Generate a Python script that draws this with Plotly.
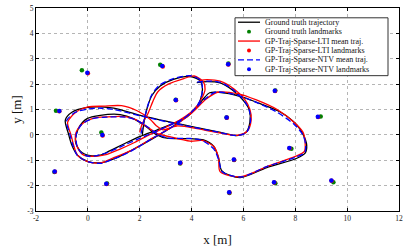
import plotly.graph_objects as go

# ---------------- data ----------------
gt_x = [2.10, 2.17, 2.28, 2.47, 2.79, 3.30, 3.95, 4.33, 4.42, 4.33, 4.14, 3.82, 3.30, 2.66, 2.02, 1.50, 0.86, 0.48, 0.09, -0.29,
        -0.48, -0.36, -0.03, 0.48, 1.25, 1.76, 2.28, 2.66, 3.05, 3.95, 4.46, 4.85, 5.04, 5.17, 5.87, 6.90, 8.06, 8.38, 8.44, 8.31,
        8.06, 7.42, 6.60, 6.00, 5.30, 4.70, 4.40, 3.90, 3.30, 2.50, 1.70, 1.00, 0.50, 0.00, -0.40, -0.62, -0.75, -0.87, -0.60, 0.00,
        0.50, 1.00, 2.02, 3.43, 4.97, 5.74, 6.10, 6.25, 6.22, 6.00, 5.60, 5.10, 4.60, 4.20]
gt_y = [0.00, 0.52, 1.03, 1.55, 1.93, 2.19, 2.30, 2.13, 1.80, 1.35, 1.03, 0.71, 0.45, 0.19, -0.06, -0.30, -0.62, -0.80, -0.82, -0.64,
        -0.26, 0.26, 0.64, 0.77, 0.80, 0.64, 0.30, 0.00, -0.13, -0.15, -0.20, -0.45, -0.90, -1.42, -1.68, -1.29, -0.92, -0.72, -0.40, 0.00,
        0.39, 0.90, 1.25, 1.48, 1.65, 1.66, 1.35, 0.80, 0.35, -0.15, -0.60, -0.95, -1.10, -1.05, -0.80, -0.40, 0.05, 0.58, 0.90, 1.08,
        1.10, 1.05, 0.77, 0.45, 0.13, -0.03, 0.10, 0.50, 1.00, 1.35, 1.75, 2.05, 2.10, 2.06]

lti_x = [2.00, 2.10, 2.30, 2.50, 2.70, 3.10, 3.70, 4.10, 4.45, 4.52, 4.40, 4.10, 3.60, 3.00, 2.40, 1.80, 1.20, 0.70, 0.20, -0.16,
         -0.39, -0.48, -0.25, 0.20, 0.74, 1.50, 1.89, 2.28, 2.66, 3.10, 3.95, 4.40, 4.85, 5.04, 5.10, 5.90, 6.90, 8.00, 8.35, 8.38,
         8.30, 7.95, 7.30, 6.50, 5.80, 5.00, 4.55, 4.05, 3.40, 2.50, 1.70, 1.00, 0.50, 0.00, -0.40, -0.55, -0.65, -0.78, -0.45, 0.00,
         0.60, 1.30, 1.90, 2.40, 2.65, 2.90, 3.43, 4.97, 5.74, 6.15, 6.30, 6.25, 6.05, 5.65, 5.10, 4.60, 4.30]
lti_y = [0.10, 0.45, 0.80, 1.30, 1.70, 2.00, 2.22, 2.32, 2.10, 1.80, 1.45, 1.00, 0.62, 0.30, 0.02, -0.30, -0.58, -0.78, -0.85, -0.80,
         -0.52, 0.00, 0.40, 0.65, 0.71, 0.71, 0.58, 0.32, 0.06, -0.06, -0.25, -0.22, -0.45, -0.90, -1.45, -1.65, -1.25, -0.85, -0.65, -0.30,
         0.10, 0.50, 1.00, 1.38, 1.62, 1.68, 1.40, 0.90, 0.40, -0.12, -0.60, -0.90, -1.10, -1.05, -0.80, -0.40, 0.00, 0.50, 0.90, 1.10,
         1.13, 1.15, 0.95, 0.62, 0.35, 0.20, 0.35, 0.10, -0.02, 0.15, 0.60, 1.00, 1.40, 1.80, 2.12, 2.18, 2.15]

ntv_x = [2.05, 2.15, 2.28, 2.45, 2.75, 3.30, 3.95, 4.35, 4.42, 4.33, 4.10, 3.70, 3.10, 2.50, 1.90, 1.30, 0.80, 0.40, 0.05, -0.20,
         -0.40, -0.45, -0.25, 0.15, 0.74, 1.45, 1.88, 2.28, 2.66, 3.05, 3.95, 4.40, 4.85, 5.05, 5.18, 5.88, 6.90, 8.02, 8.36, 8.40,
         8.28, 7.95, 7.25, 6.45, 5.70, 4.92, 4.48, 3.95, 3.35, 2.50, 1.70, 1.00, 0.50, 0.00, -0.40, -0.58, -0.70, -0.82, -0.50, 0.00,
         0.50, 1.00, 2.02, 3.43, 4.97, 5.74, 6.12, 6.27, 6.22, 6.02, 5.62, 5.10, 4.60, 4.20]
ntv_y = [0.05, 0.50, 1.05, 1.55, 1.95, 2.22, 2.33, 2.15, 1.80, 1.35, 1.00, 0.65, 0.35, 0.08, -0.18, -0.45, -0.68, -0.80, -0.85, -0.75,
         -0.50, 0.00, 0.40, 0.63, 0.70, 0.70, 0.58, 0.33, 0.05, -0.12, -0.14, -0.22, -0.55, -1.00, -1.45, -1.66, -1.25, -0.88, -0.70, -0.38,
         0.02, 0.42, 0.92, 1.30, 1.58, 1.68, 1.38, 0.85, 0.38, -0.13, -0.62, -0.95, -1.12, -1.05, -0.82, -0.40, 0.05, 0.55, 0.88, 1.02,
         1.05, 1.00, 0.75, 0.43, 0.12, -0.03, 0.10, 0.50, 1.00, 1.36, 1.77, 2.07, 2.12, 2.08]

gt_lm_x = [-0.23, -1.23, 0.52, -1.29, 0.74, 2.79, 3.39, 3.56, 5.42, 5.35, 5.64, 5.46, 7.23, 8.98, 7.85, 7.23, 9.47]
gt_lm_y = [2.55, 0.95, 0.09, -1.46, -1.92, 2.76, 1.38, -1.13, 2.81, 0.68, -0.99, -2.29, 1.75, 0.72, -0.55, -1.91, -1.87]

lti_lm_x = [0.00, -1.10, 0.57, -1.27, 0.72, 2.89, 3.40, 3.57, 5.42, 5.36, 5.64, 5.46, 7.22, 8.88, 7.78, 7.19, 9.40]
lti_lm_y = [2.43, 0.93, -0.02, -1.45, -1.94, 2.69, 1.36, -1.11, 2.77, 0.67, -0.98, -2.27, 1.73, 0.70, -0.53, -1.88, -1.81]

ntv_lm_x = [-0.02, -1.10, 0.56, -1.28, 0.71, 2.87, 3.39, 3.56, 5.41, 5.35, 5.63, 5.45, 7.21, 8.87, 7.77, 7.18, 9.39]
ntv_lm_y = [2.45, 0.94, 0.00, -1.44, -1.93, 2.71, 1.37, -1.10, 2.78, 0.68, -0.97, -2.26, 1.74, 0.71, -0.52, -1.87, -1.80]

x_ticks = [-2, 0, 2, 4, 6, 8, 10, 12]
y_ticks = [-3, -2, -1, 0, 1, 2, 3, 4, 5]

legend_labels = ["Ground truth trajectory", "Ground truth landmarks",
                 "GP-Traj-Sparse-LTI mean traj.", "GP-Traj-Sparse-LTI landmarks",
                 "GP-Traj-Sparse-NTV mean traj.", "GP-Traj-Sparse-NTV landmarks"]

BLACK, GREEN, RED, BLUE = "#000000", "#008000", "#ff0000", "#0000ff"
FONT = "Liberation Serif"

fig = go.Figure()
line_kw = dict(mode="lines", line_shape="spline", showlegend=False, hoverinfo="skip")
fig.add_trace(go.Scatter(x=gt_x, y=gt_y, line=dict(color=BLACK, width=1.3, smoothing=0.8), **line_kw))
fig.add_trace(go.Scatter(x=gt_lm_x, y=gt_lm_y, mode="markers", showlegend=False,
                         marker=dict(color=GREEN, size=4.5)))
fig.add_trace(go.Scatter(x=lti_x, y=lti_y, line=dict(color=RED, width=1.3, smoothing=0.8), **line_kw))
fig.add_trace(go.Scatter(x=lti_lm_x, y=lti_lm_y, mode="markers", showlegend=False,
                         marker=dict(color=RED, size=4.5)))
fig.add_trace(go.Scatter(x=ntv_x, y=ntv_y, line=dict(color=BLUE, width=1.3, dash="6px,3px", smoothing=0.8), **line_kw))
fig.add_trace(go.Scatter(x=ntv_lm_x, y=ntv_lm_y, mode="markers", showlegend=False,
                         marker=dict(color=BLUE, size=4.5)))

# ---------------- layout ----------------
W, H = 407, 248
ML, MR, MT, MB = 36, 8, 4, 37
PW, PH = W - ML - MR, H - MT - MB

def px(xp):
    return (xp - ML) / PW

def py(yp):
    return (H - MB - yp) / PH

shapes = []
annotations = []
# compact legend box like the original
shapes.append(dict(type="rect", xref="paper", yref="paper", x0=px(235), x1=px(388), y0=py(73), y1=py(14),
                   fillcolor="white", line=dict(color="#333333", width=1), layer="above"))
styles = [("line", BLACK, "solid"), ("marker", GREEN, None), ("line", RED, "solid"),
          ("marker", RED, None), ("line", BLUE, "6px,3px"), ("marker", BLUE, None)]
for i, (lab, (kind, col, dash)) in enumerate(zip(legend_labels, styles)):
    yy = 18.5 + i * 9.6
    if kind == "line":
        shapes.append(dict(type="line", xref="paper", yref="paper", x0=px(238), x1=px(260), y0=py(yy), y1=py(yy),
                           line=dict(color=col, width=1.3, dash=dash), layer="above"))
    else:
        shapes.append(dict(type="circle", xref="paper", yref="paper", x0=px(247), x1=px(251),
                           y0=py(yy + 2), y1=py(yy - 2), fillcolor=col, line=dict(color=col, width=0), layer="above"))
    annotations.append(dict(text=lab, xref="paper", yref="paper", x=px(263), y=py(yy), xanchor="left",
                            yanchor="middle", showarrow=False, font=dict(family=FONT, size=8, color="#111111")))

axis_common = dict(showgrid=True, gridcolor="#b5b5b5", griddash="dot", gridwidth=1,
                   showline=True, linecolor="black", linewidth=1, mirror="ticks",
                   ticks="inside", ticklen=3, tickcolor="black", zeroline=False,
                   ticklabeloverflow="allow",
                   tickfont=dict(family=FONT, size=7.5, color="#222222"))

fig.update_layout(
    width=W, height=H,
    margin=dict(l=ML, r=MR, t=MT, b=MB),
    paper_bgcolor="white", plot_bgcolor="white",
    xaxis=dict(range=[-2, 12], tickvals=x_ticks, ticktext=[str(v) for v in x_ticks],
               title=dict(text="x [m]", font=dict(family=FONT, size=13, color="#111111"), standoff=12),
               **axis_common),
    yaxis=dict(range=[-3, 5], tickvals=y_ticks, ticktext=[str(v) for v in y_ticks],
               title=dict(text="y [m]", font=dict(family=FONT, size=13, color="#111111"), standoff=2),
               **axis_common),
    shapes=shapes, annotations=annotations,
    showlegend=False,
)

fig.write_html("out.html", config={"displayModeBar": False},
               post_script="document.body.style.margin='0';document.body.style.padding='0';")
